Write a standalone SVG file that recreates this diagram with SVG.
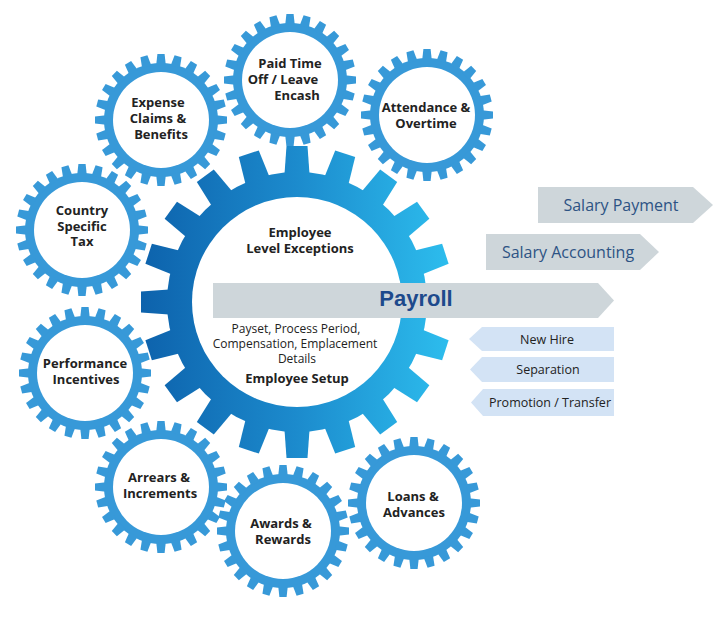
<svg xmlns="http://www.w3.org/2000/svg" width="728" height="629" viewBox="0 0 728 629">
<style>
.gt{font-family:"Open Sans","Noto Sans","DejaVu Sans",sans-serif;font-weight:bold;font-size:13px;fill:#222;text-anchor:middle}
.rt{font-family:"Open Sans","Noto Sans","DejaVu Sans",sans-serif;font-size:12px;fill:#222;text-anchor:middle}
.sal{font-family:"Open Sans","Noto Sans","DejaVu Sans",sans-serif;font-size:16px;fill:#2d5384;text-anchor:middle}
.ev{font-family:"Open Sans","Noto Sans","DejaVu Sans",sans-serif;font-size:12.5px;fill:#222;text-anchor:middle}
.pay{font-family:"Liberation Sans",Arial,sans-serif;font-weight:bold;font-size:22px;fill:#1d4a8c;text-anchor:middle}
.grey{fill:#ced6da}
.lblue{fill:#d3e3f5}
</style>
<defs>
<linearGradient id="bigGrad" gradientUnits="userSpaceOnUse" x1="141" y1="0" x2="453" y2="0">
<stop offset="0" stop-color="#0d62ac"/>
<stop offset="0.5" stop-color="#1c8bcd"/>
<stop offset="1" stop-color="#2dbeee"/>
</linearGradient>
<polygon id="st" points="-4.8,-55 4.8,-55 3.6,-66 -3.6,-66"/>
<polygon id="bt" points="-12.5,-128 12.5,-128 10.5,-156 -10.5,-156"/>
<g id="sgear">
<g fill="#3799d8">
<circle r="57"/>
<use href="#st" transform="rotate(0)"/><use href="#st" transform="rotate(15)"/><use href="#st" transform="rotate(30)"/><use href="#st" transform="rotate(45)"/>
<use href="#st" transform="rotate(60)"/><use href="#st" transform="rotate(75)"/><use href="#st" transform="rotate(90)"/><use href="#st" transform="rotate(105)"/>
<use href="#st" transform="rotate(120)"/><use href="#st" transform="rotate(135)"/><use href="#st" transform="rotate(150)"/><use href="#st" transform="rotate(165)"/>
<use href="#st" transform="rotate(180)"/><use href="#st" transform="rotate(195)"/><use href="#st" transform="rotate(210)"/><use href="#st" transform="rotate(225)"/>
<use href="#st" transform="rotate(240)"/><use href="#st" transform="rotate(255)"/><use href="#st" transform="rotate(270)"/><use href="#st" transform="rotate(285)"/>
<use href="#st" transform="rotate(300)"/><use href="#st" transform="rotate(315)"/><use href="#st" transform="rotate(330)"/><use href="#st" transform="rotate(345)"/>
</g>
<circle r="48" fill="#fff"/>
</g>
<mask id="bigMask" maskUnits="userSpaceOnUse" x="0" y="0" width="728" height="629">
<g fill="#fff" transform="translate(297,302)">
<circle r="130"/>
<use href="#bt" transform="rotate(0)"/><use href="#bt" transform="rotate(18)"/><use href="#bt" transform="rotate(36)"/><use href="#bt" transform="rotate(54)"/>
<use href="#bt" transform="rotate(72)"/><use href="#bt" transform="rotate(90)"/><use href="#bt" transform="rotate(108)"/><use href="#bt" transform="rotate(126)"/>
<use href="#bt" transform="rotate(144)"/><use href="#bt" transform="rotate(162)"/><use href="#bt" transform="rotate(180)"/><use href="#bt" transform="rotate(198)"/>
<use href="#bt" transform="rotate(216)"/><use href="#bt" transform="rotate(234)"/><use href="#bt" transform="rotate(252)"/><use href="#bt" transform="rotate(270)"/>
<use href="#bt" transform="rotate(288)"/><use href="#bt" transform="rotate(306)"/><use href="#bt" transform="rotate(324)"/><use href="#bt" transform="rotate(342)"/>
</g>
</mask>
</defs>
<rect width="728" height="629" fill="#fff"/>

<g id="expense">
<use href="#sgear" transform="translate(161,120)"/>
<text class="gt" x="158" y="107">Expense</text>
<text class="gt" x="158" y="123">Claims &amp;</text>
<text class="gt" x="161" y="139">Benefits</text>
</g>
<g id="paid-time-off">
<use href="#sgear" transform="translate(290,80)"/>
<text class="gt" x="290" y="68">Paid Time</text>
<text class="gt" x="283" y="84">Off / Leave</text>
<text class="gt" x="297" y="100">Encash</text>
</g>
<g id="attendance">
<use href="#sgear" transform="translate(427,115)"/>
<text class="gt" x="426" y="112">Attendance &amp;</text>
<text class="gt" x="426" y="128">Overtime</text>
</g>
<g id="country-tax">
<use href="#sgear" transform="translate(82,230)"/>
<text class="gt" x="82" y="215">Country</text>
<text class="gt" x="82" y="231">Specific</text>
<text class="gt" x="82" y="246">Tax</text>
</g>
<g id="performance">
<use href="#sgear" transform="translate(85,373)"/>
<text class="gt" x="85" y="368">Performance</text>
<text class="gt" x="86" y="384">Incentives</text>
</g>
<g id="arrears">
<use href="#sgear" transform="translate(161,487)"/>
<text class="gt" x="159" y="482">Arrears &amp;</text>
<text class="gt" x="160" y="498">Increments</text>
</g>
<g id="awards">
<use href="#sgear" transform="translate(283,531)"/>
<text class="gt" x="281" y="528">Awards &amp;</text>
<text class="gt" x="283" y="544">Rewards</text>
</g>
<g id="loans">
<use href="#sgear" transform="translate(414,503)"/>
<text class="gt" x="413" y="501">Loans &amp;</text>
<text class="gt" x="414" y="517">Advances</text>
</g>

<g id="employee-core">
<rect x="140" y="145" width="314" height="314" fill="url(#bigGrad)" mask="url(#bigMask)"/>
<circle cx="297" cy="302" r="105" fill="#fff"/>
<text class="gt" x="300" y="237">Employee</text>
<text class="gt" x="300" y="253">Level Exceptions</text>
<text class="rt" x="296" y="333">Payset, Process Period,</text>
<text class="rt" x="295" y="348">Compensation, Emplacement</text>
<text class="rt" x="297" y="363">Details</text>
<text class="gt" x="297" y="383">Employee Setup</text>
</g>

<g id="payroll">
<polygon class="grey" points="213,283 598,283 614,300.5 598,318 213,318"/>
<text class="pay" x="416" y="306">Payroll</text>
</g>
<g id="salary-accounting">
<polygon class="grey" points="486,234 640,234 659,252 640,270 486,270"/>
<text class="sal" x="568" y="258">Salary Accounting</text>
</g>
<g id="salary-payment">
<polygon class="grey" points="538,187 693,187 713,205 693,223 538,223"/>
<text class="sal" x="621" y="211">Salary Payment</text>
</g>
<g id="new-hire">
<polygon class="lblue" points="614,327 614,351 482,351 469,339 482,327"/>
<text class="ev" x="547" y="343.5">New Hire</text>
</g>
<g id="separation">
<polygon class="lblue" points="614,357 614,382 482,382 470,369.5 482,357"/>
<text class="ev" x="548" y="374">Separation</text>
</g>
<g id="promotion">
<polygon class="lblue" points="614,389 614,416 483,416 471,402.5 483,389"/>
<text class="ev" x="550" y="407">Promotion / Transfer</text>
</g>
</svg>
